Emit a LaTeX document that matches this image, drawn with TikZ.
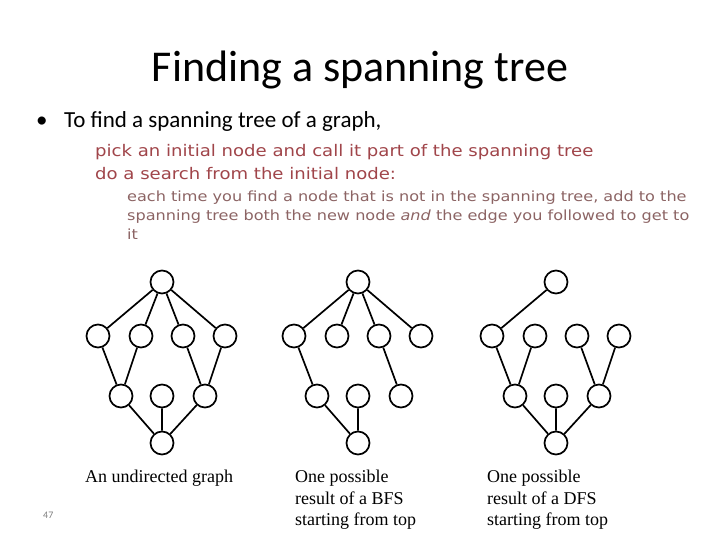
\documentclass[tikz,border=0pt]{standalone}
\usepackage{fontspec}
\setmainfont{Carlito}
\newfontfamily\verd[FakeStretch=1.13]{DejaVu Sans}
\newfontfamily\verdsm[FakeStretch=1.15]{DejaVu Sans}
\newfontfamily\tms{Liberation Serif}
\definecolor{redtxt}{HTML}{A0454A}
\definecolor{greytxt}{HTML}{8C6464}
\begin{document}
\begin{tikzpicture}[x=1pt,y=-1pt]
		\tikzset{
			every node/.style={inner sep=0pt},
			% knot
			vert/.style={draw,circle,line width=1.7pt,minimum size=23pt},
			edg/.style={line width=1.7pt},
			% text
			lvone/.style={anchor=base west,font=\verd\fontsize{16}{19}\selectfont,text=redtxt},
			lvtwo/.style={anchor=north west,align=left,font=\verdsm\fontsize{14}{19}\selectfont,text=greytxt},
			capt/.style={anchor=north west,align=left,font=\tms\fontsize{18}{21.5}\selectfont},
		}
		\useasboundingbox (0,0) rectangle (720,540);
		%
		\node[anchor=base,font=\fontsize{44}{44}\selectfont] (title) at (360,82) {Finding a spanning tree};
		\node[anchor=base west,font=\fontsize{23}{23}\selectfont] (bul) at (36,128) {\textbullet};
		\node[anchor=base west,font=\fontsize{23}{23}\selectfont] (intro) at (64,128) {To find a spanning tree of a graph,};
		\node[lvone] (pick) at (95,157) {pick an initial node and call it part of the spanning tree};
		\node[lvone] (srch) at (95,180) {do a search from the initial node:};
		\node[lvtwo] (each) at (127,191) {each time you find a node that is not in the spanning tree, add to the\\spanning tree both the new node \textit{and} the edge you followed to get to\\it};
		%
		\foreach \g/\cx in {a/162,b/358,c/556}{
			\node[vert] (\g0) at (\cx,282) {};
			\foreach \i/\dx in {1/-64,2/-21,3/21,4/63}
				\node[vert] (\g\i) at (\cx+\dx,336) {};
			\foreach \i/\dx in {5/-41,6/0,7/43}
				\node[vert] (\g\i) at (\cx+\dx,396) {};
			\node[vert] (\g8) at (\cx,443) {};
		}
		% undirected graph
		\draw[edg] (a0)--(a1) (a0)--(a2) (a0)--(a3) (a0)--(a4) (a1)--(a5) (a2)--(a5) (a3)--(a7) (a4)--(a7) (a5)--(a8) (a6)--(a8) (a7)--(a8);
		% BFS
		\draw[edg] (b0)--(b1) (b0)--(b2) (b0)--(b3) (b0)--(b4) (b1)--(b5) (b3)--(b7) (b5)--(b8) (b6)--(b8);
		% DFS
		\draw[edg] (c0)--(c1) (c1)--(c5) (c2)--(c5) (c5)--(c8) (c6)--(c8) (c8)--(c7) (c7)--(c3) (c7)--(c4);
		%
		\node[capt] (cpa) at (85,470) {An undirected graph};
		\node[capt] (cpb) at (295,470) {One possible\\result of a BFS\\starting from top};
		\node[capt] (cpc) at (487,470) {One possible\\result of a DFS\\starting from top};
		\node[anchor=base west,font=\fontsize{10}{10}\selectfont,text=gray] (pg) at (43,518) {47};
\end{tikzpicture}
\end{document}
